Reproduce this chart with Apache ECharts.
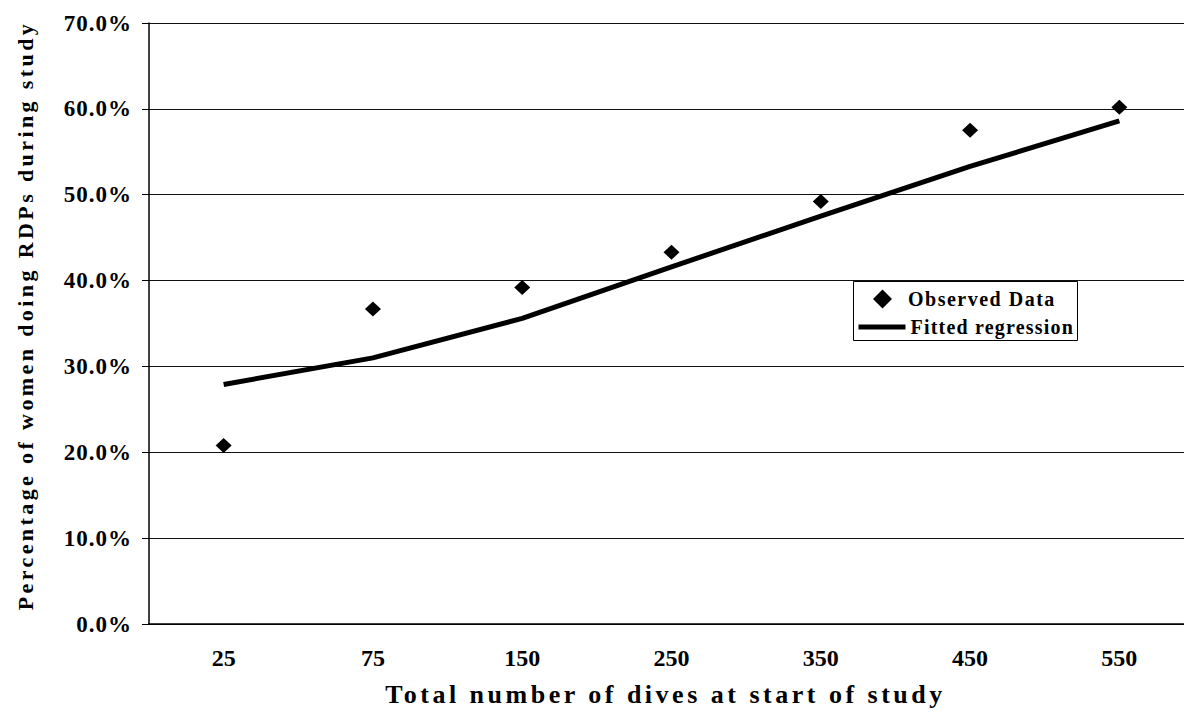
<!DOCTYPE html>
<html>
<head>
<meta charset="utf-8">
<script src="https://cdn.jsdelivr.net/npm/echarts@6/dist/echarts.min.js"></script>
<style>
  html, body { margin: 0; padding: 0; background: #fff; }
  #chart { width: 1184px; height: 712px; }
</style>
</head>
<body>
<div id="chart"></div>
<script>
// dives at start of study
const categories = ['25', '75', '150', '250', '350', '450', '550']
// percentage of women doing RDPs (%)
const observed = [20.8, 36.7, 39.2, 43.3, 49.2, 57.5, 60.2]
const fitted = [27.9, 31.0, 35.6, 41.6, 47.5, 53.3, 58.6]

const font = 'Liberation Serif, Times New Roman, serif'

// the scan has very loose letter spacing, svg text lets us copy it
const spacing = {
  'Total number of dives at start of study': 3.5,
  'Percentage of women doing RDPs during study': 3.4,
  'Observed Data': 1.5,
  'Fitted regression': 1.2
}

const legendText = {
  fontFamily: font,
  fontWeight: 'bold',
  fontSize: 20,
  color: '#000'
}

const chart = echarts.init(document.getElementById('chart'), null, { renderer: 'svg' })

chart.setOption({
  backgroundColor: '#fff',
  animation: false,
  grid: {
    left: 149,
    top: 23,
    width: 1045,
    bottom: 88,
    outerBoundsMode: 'none'
  },
  // legend frame, the two legends below sit inside it
  graphic: [{
    type: 'rect',
    left: 853,
    top: 281,
    shape: { width: 224, height: 59 },
    style: { fill: '#fff', stroke: '#000', lineWidth: 1 },
    z: 90
  }],
  legend: [
    {
      left: 873,
      top: 289,
      padding: 0,
      itemWidth: 19,
      itemHeight: 19,
      textStyle: Object.assign({ padding: [0, 0, 0, 11] }, legendText),
      data: ['Observed Data'],
      z: 100
    },
    {
      left: 856,
      top: 317,
      padding: 0,
      itemWidth: 47,
      itemHeight: 5,
      lineStyle: { width: 5 },
      textStyle: legendText,
      data: ['Fitted regression'],
      z: 100
    }
  ],
  xAxis: {
    type: 'category',
    data: categories,
    name: 'Total number of dives at start of study',
    nameLocation: 'middle',
    nameGap: 57,
    nameTextStyle: {
      fontFamily: font,
      fontWeight: 'bold',
      fontSize: 26,
      color: '#000',
      padding: [0, 12, 0, 0]
    },
    axisLine: { lineStyle: { color: '#000', width: 1.5 } },
    axisTick: { length: 7, lineStyle: { color: '#000' } },
    axisLabel: {
      margin: 22,
      fontFamily: font,
      fontWeight: 'bold',
      fontSize: 24,
      color: '#000'
    }
  },
  yAxis: {
    type: 'value',
    min: 0,
    max: 70,
    interval: 10,
    name: 'Percentage of women doing RDPs during study',
    nameLocation: 'middle',
    nameGap: 113,
    nameTextStyle: {
      fontFamily: font,
      fontWeight: 'bold',
      fontSize: 22,
      color: '#000',
      padding: [0, 0, 0, 16]
    },
    axisLine: { show: true, lineStyle: { color: '#000', width: 1.5 } },
    axisTick: { show: true, length: 7, lineStyle: { color: '#000' } },
    axisLabel: {
      margin: 17,
      fontFamily: font,
      fontWeight: 'bold',
      fontSize: 23,
      color: '#000',
      formatter: v => v.toFixed(1) + '%'
    },
    splitLine: { lineStyle: { color: '#111', width: 1.2 } }
  },
  series: [
    {
      name: 'Observed Data',
      type: 'scatter',
      symbol: 'diamond',
      symbolSize: [16, 15],
      itemStyle: { color: '#000', opacity: 1 },
      data: observed,
      z: 3
    },
    {
      name: 'Fitted regression',
      type: 'line',
      showSymbol: false,
      lineStyle: { color: '#000', width: 5 },
      // hides the dot that the legend puts on the line icon
      itemStyle: { color: '#000', opacity: 0 },
      data: fitted,
      z: 2
    }
  ]
})

function spaceText () {
  document.querySelectorAll('#chart text').forEach(t => {
    const s = t.textContent
    let ls = spacing[s]
    if (ls === undefined) ls = s.endsWith('%') ? 1 : 0
    t.style.letterSpacing = ls + 'px'
  })
}
spaceText()
chart.on('finished', spaceText)
</script>
</body>
</html>
